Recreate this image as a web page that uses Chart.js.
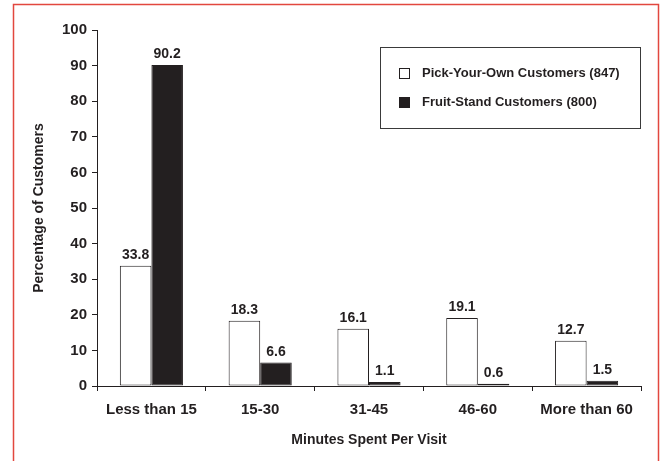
<!DOCTYPE html>
<html>
<head>
<meta charset="utf-8">
<title>Minutes Spent Per Visit</title>
<script src="https://cdn.jsdelivr.net/npm/chart.js@4.4.1/dist/chart.umd.min.js"></script>
<style>
  html, body { margin: 0; padding: 0; background: #fff; }
  #wrap { width: 661px; height: 461px; }
</style>
</head>
<body>
<div id="wrap"><canvas id="chart" width="661" height="461"></canvas></div>
<script>
// Time spent per visit, share of customers (%) by customer type
const categories = ['Less than 15', '15-30', '31-45', '46-60', 'More than 60'];
const pickYourOwn = [33.8, 18.3, 16.1, 19.1, 12.7];
const fruitStand = [90.2, 6.6, 1.1, 0.6, 1.5];
const seriesNames = ['Pick-Your-Own Customers (847)', 'Fruit-Stand Customers (800)'];
const yMin = 0, yMax = 100, yStep = 10;

const FONT = '"Liberation Sans", Arial, Helvetica, sans-serif';
const INK = '#231f20';

// Outer frame around the figure
const framePlugin = {
  id: 'frame',
  beforeDraw(chart) {
    const ctx = chart.ctx;
    ctx.save();
    ctx.fillStyle = '#ffffff';
    ctx.fillRect(0, 0, chart.width, chart.height);
    ctx.strokeStyle = '#e2473f';
    ctx.lineWidth = 1.5;
    ctx.strokeRect(13.5, 4.5, 645, chart.height + 20);
    ctx.restore();
  }
};

// Value written above each bar
const valueLabelPlugin = {
  id: 'valueLabels',
  afterDatasetsDraw(chart) {
    const ctx = chart.ctx;
    ctx.save();
    ctx.font = 'bold 14px ' + FONT;
    ctx.fillStyle = INK;
    ctx.textAlign = 'center';
    ctx.textBaseline = 'alphabetic';
    chart.data.datasets.forEach((ds, di) => {
      const meta = chart.getDatasetMeta(di);
      meta.data.forEach((bar, i) => {
        ctx.fillText(ds.data[i].toFixed(1), bar.x, bar.y - 7);
      });
    });
    ctx.restore();
  }
};

// Boxed legend in the upper right
const boxLegendPlugin = {
  id: 'boxLegend',
  afterDraw(chart) {
    const ctx = chart.ctx;
    const box = { x: 380.5, y: 47.5, w: 260, h: 81 };
    ctx.save();
    ctx.fillStyle = '#ffffff';
    ctx.fillRect(box.x, box.y, box.w, box.h);
    ctx.strokeStyle = '#3a3a3a';
    ctx.lineWidth = 1;
    ctx.strokeRect(box.x, box.y, box.w, box.h);
    ctx.font = 'bold 13px ' + FONT;
    ctx.textBaseline = 'middle';
    ctx.textAlign = 'left';
    chart.data.datasets.forEach((ds, i) => {
      const cy = 73.5 + i * 29;
      ctx.fillStyle = ds.backgroundColor;
      ctx.fillRect(399.5, cy - 5, 10, 10);
      ctx.strokeStyle = INK;
      ctx.strokeRect(399.5, cy - 5, 10, 10);
      ctx.fillStyle = INK;
      ctx.fillText(ds.label, 422, cy);
    });
    ctx.restore();
  }
};

new Chart(document.getElementById('chart'), {
  type: 'bar',
  data: {
    labels: categories,
    datasets: [
      {
        label: seriesNames[0],
        data: pickYourOwn,
        backgroundColor: '#ffffff',
        borderColor: INK,
        borderWidth: 1,
        borderSkipped: false
      },
      {
        label: seriesNames[1],
        data: fruitStand,
        backgroundColor: INK,
        borderColor: INK,
        borderWidth: 1,
        borderSkipped: false
      }
    ]
  },
  options: {
    responsive: false,
    animation: false,
    devicePixelRatio: 1,
    layout: { padding: { top: 30, right: 20, left: 0, bottom: 0 } },
    datasets: { bar: { categoryPercentage: 0.58, barPercentage: 1.0 } },
    plugins: {
      legend: { display: false },
      tooltip: { enabled: false },
      title: { display: false }
    },
    scales: {
      x: {
        afterFit(scale) { scale.height = 75; },
        grid: {
          display: true,
          drawOnChartArea: false,
          drawTicks: true,
          tickLength: 5,
          color: INK,
          offset: true
        },
        border: { display: true, color: INK, width: 1 },
        ticks: {
          color: INK,
          padding: 10,
          font: { family: FONT, size: 15, weight: 'bold' }
        },
        title: {
          display: true,
          text: 'Minutes Spent Per Visit',
          color: INK,
          padding: { top: 0, bottom: 12 },
          font: { family: FONT, size: 14, weight: 'bold' }
        }
      },
      y: {
        min: yMin,
        max: yMax,
        afterFit(scale) { scale.width = 97; },
        grid: {
          display: true,
          drawOnChartArea: false,
          drawTicks: true,
          tickLength: 5,
          color: INK
        },
        border: { display: true, color: INK, width: 1 },
        ticks: {
          stepSize: yStep,
          color: INK,
          padding: 5,
          font: { family: FONT, size: 15, weight: 'bold' }
        },
        title: {
          display: true,
          text: 'Percentage of Customers',
          color: INK,
          padding: { top: 31, bottom: 0 },
          font: { family: FONT, size: 14, weight: 'bold' }
        }
      }
    }
  },
  plugins: [framePlugin, valueLabelPlugin, boxLegendPlugin]
});
</script>
</body>
</html>
